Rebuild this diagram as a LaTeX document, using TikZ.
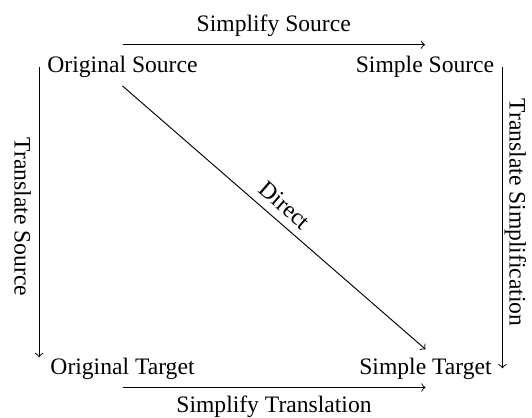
\documentclass[tikz,border=0pt]{standalone}
\usepackage{fontspec}
\setmainfont{Liberation Serif}
\usetikzlibrary{calc}
\begin{document}
\begin{tikzpicture}[x=0.4237pt,y=0.4237pt,
  lbl/.style={font=\fontsize{10}{12}\selectfont},
  obj/.style={lbl,anchor=base},
  arr/.style={->,line width=0.4pt}]
\useasboundingbox (0,0) rectangle (532,-417);
\node[obj] (os) at (122.5,-72.5) {Original Source};
\node[obj] (ss) at (425,-72.5) {Simple Source};
\node[obj] (ot) at (122.5,-374) {Original Target};
\node[obj] (st) at (425.5,-374) {Simple Target};
\draw[arr] ([yshift=1.3pt]os.north) -- node[lbl,above] (l1) {Simplify Source} ([yshift=1.3pt]os.north -| ss.north);
\draw[arr] (ot.south) -- node[lbl,below] (l2) {Simplify Translation} (ot.south -| st.south);
\draw[arr] (os.west) -- ($(os.west |- ot.north)+(0,-8)$);
\draw[arr] (ss.east) -- (ss.east |- st.east);
\draw[arr] (os.south) -- node[lbl,above,sloped] (l3) {Direct} (st.north);
\node[lbl,rotate=-90,anchor=base] (l4) at (14.5,-217) {Translate Source};
\node[lbl,rotate=-90,anchor=base] (l5) at (509.5,-212.5) {Translate Simplification};
\end{tikzpicture}
\end{document}
